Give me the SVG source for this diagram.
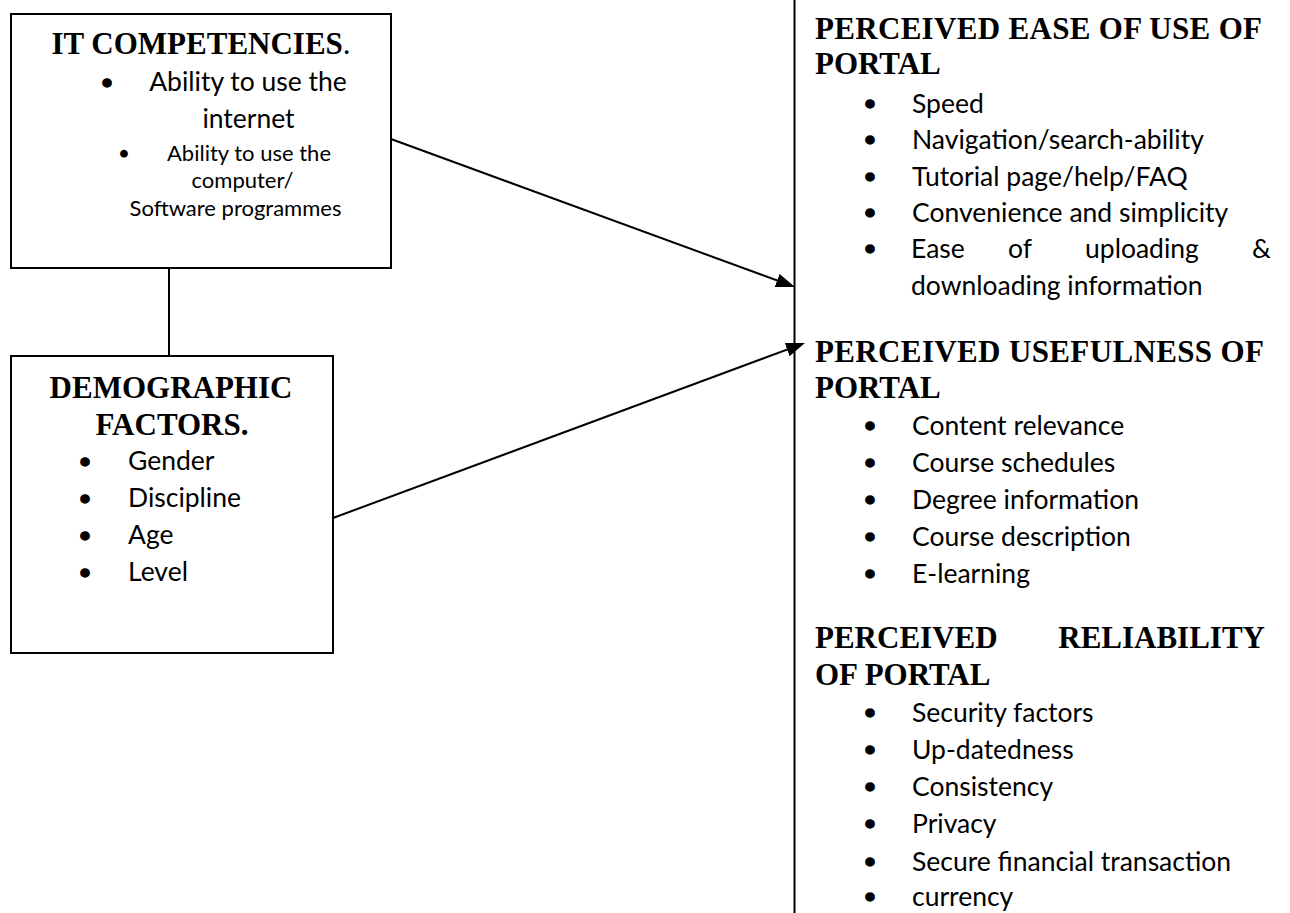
<svg xmlns="http://www.w3.org/2000/svg" width="1290" height="913" viewBox="0 0 1290 913">
<style>
.h{font-family:"Liberation Serif","Times New Roman",serif;font-weight:bold;font-size:31px;fill:#000}
.b{font-family:Lato,"Open Sans",sans-serif;font-size:26.5px;fill:#000}
.s{font-family:Lato,"Open Sans",sans-serif;font-size:22px;fill:#000}
.bu{font-family:"Liberation Sans",Arial,sans-serif;font-size:30px;fill:#000;stroke:#000;stroke-width:1.6px;text-anchor:middle}
.bus{font-family:"Liberation Sans",Arial,sans-serif;font-size:24px;fill:#000;stroke:#000;stroke-width:1.2px;text-anchor:middle}
.box{fill:#fff;stroke:#000;stroke-width:2}
.ln{stroke:#000;stroke-width:2;fill:none}
.m{text-anchor:middle}
</style>
<defs>
<marker id="ah" markerUnits="userSpaceOnUse" markerWidth="22" markerHeight="16" refX="10" refY="7" orient="auto">
<path d="M0,0 L19,7 L0,14 z" fill="#000"/>
</marker>
</defs>
<rect width="1290" height="913" fill="#fff"/>
<g id="connectors">
<line class="ln" x1="794.5" y1="0" x2="794.5" y2="913"/>
<line class="ln" x1="169" y1="268" x2="169" y2="356"/>
<line class="ln" x1="391" y1="139" x2="786.5" y2="283.9" marker-end="url(#ah)"/>
<line class="ln" x1="333" y1="518" x2="796.5" y2="346.1" marker-end="url(#ah)"/>
</g>
<g id="it-competencies">
<rect class="box" x="11" y="14" width="380" height="254"/>
<text class="h m" x="201" y="54">IT COMPETENCIES<tspan font-weight="normal">.</tspan></text>
<text class="bu" x="107" y="92.6">•</text>
<text class="b m" x="248" y="91">Ability to use the</text>
<text class="b m" x="248.5" y="127.5">internet</text>
<text class="bus" x="124" y="161.7">•</text>
<text class="s m" x="249" y="160.5">Ability to use the</text>
<text class="s m" x="242.5" y="188">computer/</text>
<text class="s m" x="235.5" y="216">Software programmes</text>
</g>
<g id="demographic-factors">
<rect class="box" x="11" y="356" width="322" height="297"/>
<text class="h m" x="171" y="398">DEMOGRAPHIC</text>
<text class="h m" x="172" y="435">FACTORS.</text>
<text class="bu" x="85" y="471.6">•</text>
<text class="b" x="128" y="470">Gender</text>
<text class="bu" x="85" y="508.6">•</text>
<text class="b" x="128" y="507">Discipline</text>
<text class="bu" x="85" y="545.6">•</text>
<text class="b" x="128" y="544">Age</text>
<text class="bu" x="85" y="582.6">•</text>
<text class="b" x="128" y="581">Level</text>
</g>
<g id="ease-of-use">
<text class="h" x="815" y="38.5" textLength="447" lengthAdjust="spacing">PERCEIVED EASE OF USE OF</text>
<text class="h" x="815" y="74">PORTAL</text>
<text class="bu" x="870" y="114">•</text>
<text class="b" x="912" y="113">Speed</text>
<text class="bu" x="870" y="150.3">•</text>
<text class="b" x="912" y="149.3">Navigation/search-ability</text>
<text class="bu" x="870" y="186.6">•</text>
<text class="b" x="912" y="185.6">Tutorial page/help/FAQ</text>
<text class="bu" x="870" y="222.9">•</text>
<text class="b" x="912" y="221.9">Convenience and simplicity</text>
<text class="bu" x="870" y="259.2">•</text>
<text class="b" y="258.2"><tspan x="911">Ease</tspan><tspan x="1008">of</tspan><tspan x="1085">uploading</tspan><tspan x="1252">&amp;</tspan></text>
<text class="b" x="911" y="294.5">downloading information</text>
</g>
<g id="usefulness">
<text class="h" x="815" y="362" textLength="449" lengthAdjust="spacing">PERCEIVED USEFULNESS OF</text>
<text class="h" x="815" y="398">PORTAL</text>
<text class="bu" x="870" y="435.5">•</text>
<text class="b" x="912" y="434.5">Content relevance</text>
<text class="bu" x="870" y="472.7">•</text>
<text class="b" x="912" y="471.7">Course schedules</text>
<text class="bu" x="870" y="509.9">•</text>
<text class="b" x="912" y="508.9">Degree information</text>
<text class="bu" x="870" y="547.1">•</text>
<text class="b" x="912" y="546.1">Course description</text>
<text class="bu" x="870" y="584.3">•</text>
<text class="b" x="912" y="583.3">E-learning</text>
</g>
<g id="reliability">
<text class="h" y="648"><tspan x="815">PERCEIVED</tspan><tspan x="1265" text-anchor="end">RELIABILITY</tspan></text>
<text class="h" x="815" y="685">OF PORTAL</text>
<text class="bu" x="870" y="722.5">•</text>
<text class="b" x="912" y="721.5">Security factors</text>
<text class="bu" x="870" y="759.8">•</text>
<text class="b" x="912" y="758.8">Up-datedness</text>
<text class="bu" x="870" y="797.1">•</text>
<text class="b" x="912" y="796.1">Consistency</text>
<text class="bu" x="870" y="834.4">•</text>
<text class="b" x="912" y="833.4">Privacy</text>
<text class="bu" x="870" y="871.7">•</text>
<text class="b" x="912" y="870.7">Secure financial transaction</text>
<text class="bu" x="870" y="907">•</text>
<text class="b" x="912" y="906">currency</text>
</g>
</svg>
